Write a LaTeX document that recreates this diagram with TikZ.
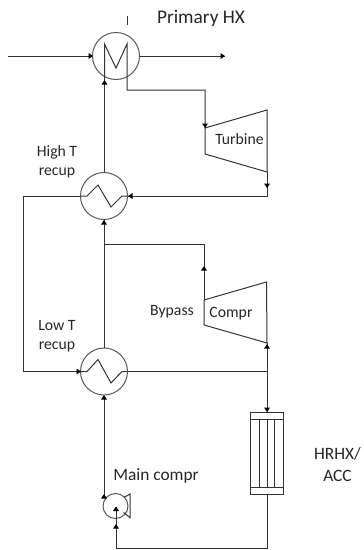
\documentclass[tikz,border=0pt]{standalone}
\usepackage{fontspec}
\setmainfont{Carlito}
\tikzset{
  x=0.75pt,y=-0.75pt,
  ln/.style={draw=black!80,line width=0.75pt},
  eq/.style={draw=black!65,line width=0.75pt,fill=white},
  lbl/.style={font=\fontsize{14.5pt}{17pt}\selectfont,text=black!85,align=center,inner sep=0pt},
  lbls/.style={lbl,font=\fontsize{11.8pt}{14.3pt}\selectfont},
  lblb/.style={lbl,font=\fontsize{13pt}{16.5pt}\selectfont},
  hx/.style={circle,minimum size=35.25pt,inner sep=0pt,eq}
}
% apex at (#1,#2); direction: r l u d
\newcommand{\tipr}[2]{\fill[black] (#1,#2) -- ++(-4.5,-3) -- ++(0,6) -- cycle;}
\newcommand{\tipl}[2]{\fill[black] (#1,#2) -- ++(4.5,-3) -- ++(0,6) -- cycle;}
\newcommand{\tipu}[2]{\fill[black] (#1,#2) -- ++(-3,4.5) -- ++(6,0) -- cycle;}
\newcommand{\tipd}[2]{\fill[black] (#1,#2) -- ++(-3,-4.5) -- ++(6,0) -- cycle;}
\begin{document}
\begin{tikzpicture}
\useasboundingbox (0,0) rectangle (364,550);
\node[hx] (prim) at (116,56) {};
\node[hx] (high) at (104,196) {};
\node[hx] (low) at (104,371.5) {};
\node[circle,minimum size=18.75pt,inner sep=0pt,eq] (pump) at (115.5,506) {};
\coordinate (primIn) at (8,56);
\coordinate (primOut) at (225,56);
\coordinate (stemA) at (127,16);
\coordinate (stemB) at (127,25);
\coordinate (primA) at (104.5,44);
\coordinate (primB) at (127,44);
\coordinate (turbIn) at (205,128);
\coordinate (turbOut) at (267,172);
\coordinate (comprIn) at (267,343);
\coordinate (comprOut) at (204,300);
\coordinate (leftT) at (23,196);
\coordinate (leftB) at (23,371.5);
\coordinate (accTop) at (267,412);
\coordinate (accBot) at (267,494);
% HX zigzags
\draw[ln] (104.5,80) -- (primA) -- (116,68) -- (primB) -- (127,90) -- (205,90) -- (turbIn);
\draw[ln] (stemA) -- (stemB);
\draw[ln] (primIn) -- (prim.west);
\draw[ln] (prim.east) -- (primOut);
\draw[ln] (81,196) -- (87,196) -- (98,185) -- (111,207) -- (122,196) -- (127,196);
\draw[ln] (81,371.5) -- (87,371.5) -- (98,359.5) -- (111,383) -- (122,371.5) -- (127,371.5);
% Turbine
\draw[ln] (turbIn) -- (267,110) -- (turbOut) -- (205,154) -- cycle;
\node[lbls] (turbl) at (239.5,139.5) {Turbine};
% Compressor
\draw[ln] (comprOut) -- (266.5,282) -- (comprIn) -- (204,325) -- cycle;
\node[lbls] (compl) at (231,314) {Compr};
% connectors
\draw[ln] (turbOut) -- (267,196) -- (high.east);
\draw[ln] (high.west) -- (leftT) -- (leftB) -- (low.west);
\draw[ln] (high.north) -- (104,80);
\draw[ln] (low.north) -- (high.south);
\draw[ln] (comprOut) -- (204,244) -- (104,244);
\draw[ln] (low.east) -- (267,371.5) -- (comprIn);
\draw[ln] (267,371.5) -- (accTop);
\draw[ln] (low.south) -- (104,497);
\draw[ln] (accBot) -- (267,548) -- (116,548) -- (116,507);
% Accumulator
\node[draw=black!80,line width=0.75pt,minimum width=25pt,minimum height=61.5pt,inner sep=0pt] (acc) at (266.7,453) {};
\draw[ln] (250,419) -- (283.3,419) (250,487) -- (283.3,487);
\draw[ln] (259,419) -- (259,487) (267,419) -- (267,487) (274.5,419) -- (274.5,487);
% pump casing
\draw[ln] (124,497.5) -- (130,494) -- (130,517.5) -- (123.5,512.5);
% arrow tips
\tipr{93}{56}
\tipr{225}{56}
\tipu{104.5}{80}
\tipd{205}{128}
\tipd{267}{188}
\tipl{128}{196}
\tipu{104}{220}
\tipu{204}{266}
\tipu{267}{344}
\tipr{81}{371.5}
\tipu{104}{395}
\tipd{267}{412}
\tipu{104}{494}
\tipu{116}{506.5}
\tipu{116}{524}
% labels
\node[lbl] (primL) at (201,18) {Primary HX};
\node[lbls] (highL) at (57,161.5) {High T\\recup};
\node[lbls] (lowL) at (57,336.5) {Low T\\recup};
\node[lbls] (bypL) at (172,311.5) {Bypass};
\node[lblb] (mainL) at (156,476) {Main compr};
\node[lblb] (hrhxL) at (337.5,464.5) {HRHX/\\ACC};
\end{tikzpicture}
\end{document}
